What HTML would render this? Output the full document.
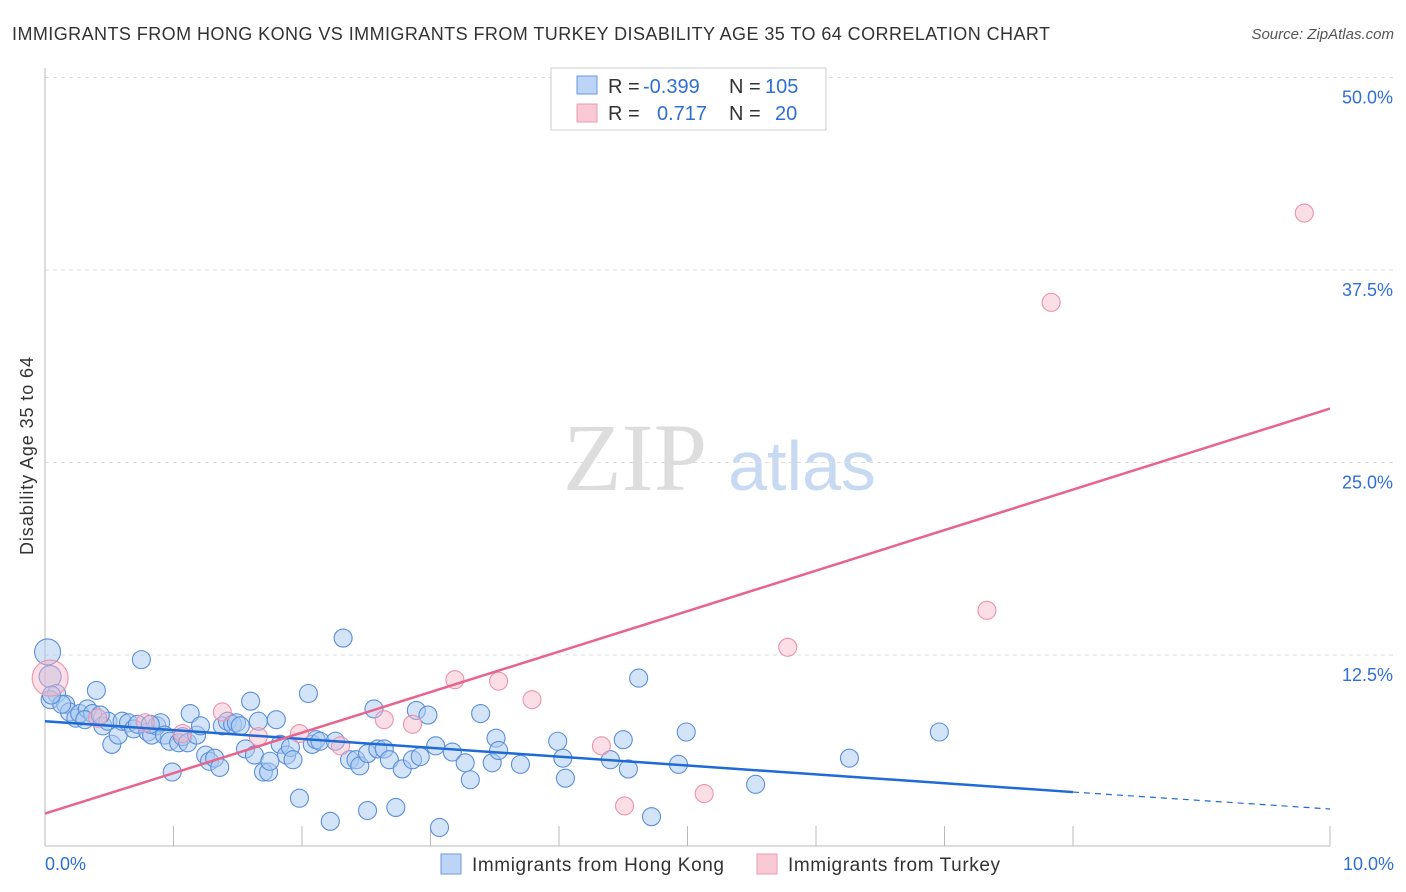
<!DOCTYPE html>
<html><head><meta charset="utf-8"><style>
body{margin:0;background:#fff;font-family:"Liberation Sans",sans-serif;}
svg{display:block}
</style></head><body>
<svg id="chart" width="1406" height="892" xmlns="http://www.w3.org/2000/svg">
<text x="12" y="40" font-size="18" fill="#333" textLength="1038" lengthAdjust="spacing">IMMIGRANTS FROM HONG KONG VS IMMIGRANTS FROM TURKEY DISABILITY AGE 35 TO 64 CORRELATION CHART</text>
<text x="1394" y="39" font-size="15" fill="#555" text-anchor="end" font-style="italic">Source: ZipAtlas.com</text>
<g>
<text x="635" y="490" font-size="96" fill="#ddd" font-family="Liberation Serif,serif" text-anchor="middle">ZIP</text>
<text x="802" y="490" font-size="70" fill="#c8daf2" text-anchor="middle">atlas</text>
</g>
<g id="grid"></g>
<g id="axes"></g>
<g id="points"></g>
<g id="trends"></g>
<text transform="translate(33,456) rotate(-90)" font-size="18" fill="#333" text-anchor="middle" textLength="198" lengthAdjust="spacing">Disability Age 35 to 64</text>
<g>
<rect x="551" y="68" width="275" height="62" fill="#fff" stroke="#ccc"/>
<rect x="577" y="76" width="20" height="18" fill="#bcd4f5" stroke="#6a9ae0"/>
<rect x="577" y="104" width="20" height="18" fill="#f9c9d6" stroke="#ec9ab2"/>
<text font-size="20" fill="#333"><tspan x="608" y="93">R =</tspan><tspan x="643" y="93" fill="#2f6fd6">-0.399</tspan><tspan x="729" y="93">N =</tspan><tspan x="765" y="93" fill="#2f6fd6">105</tspan></text>
<text font-size="20" fill="#333"><tspan x="608" y="120">R =</tspan><tspan x="657" y="120" fill="#2f6fd6">0.717</tspan><tspan x="729" y="120">N =</tspan><tspan x="775" y="120" fill="#2f6fd6">20</tspan></text>
</g>
<g>
<rect x="441" y="854" width="20" height="20" fill="#bcd4f5" stroke="#6a9ae0"/>
<text x="472" y="871" font-size="19" fill="#333" textLength="252" lengthAdjust="spacing">Immigrants from Hong Kong</text>
<rect x="757" y="854" width="20" height="20" fill="#f9c9d6" stroke="#ec9ab2"/>
<text x="788" y="871" font-size="19" fill="#333" textLength="212" lengthAdjust="spacing">Immigrants from Turkey</text>
</g>
</svg>
<script>
const yTicks=[12.5,25,37.5,50];
const yTickLabels=["12.5%","25.0%","37.5%","50.0%"];
const xTickVals=[0,1,2,3,4,5,6,7,8,10];
const blueX=[0.02,0.04,0.09,0.16,0.19,0.24,0.27,0.33,0.37,0.40,0.45,0.49,0.52,0.57,0.60,0.65,0.69,0.72,0.75,0.80,0.83,0.87,0.90,0.93,0.97,0.99,1.04,1.07,1.11,1.13,1.18,1.21,1.25,1.28,1.32,1.36,1.38,1.42,1.46,1.49,1.52,1.56,1.60,1.63,1.66,1.70,1.74,1.75,1.80,1.83,1.88,1.91,1.93,1.98,2.05,2.08,2.11,2.14,2.22,2.26,2.32,2.37,2.42,2.45,2.51,2.51,2.56,2.59,2.64,2.68,2.73,2.78,2.86,2.89,2.92,2.98,3.04,3.07,3.17,3.27,3.31,3.39,3.48,3.51,3.53,3.70,3.99,4.03,4.05,4.40,4.50,4.54,4.62,4.72,4.93,4.99,5.53,6.26,6.96,0.04,0.13,0.31,0.43,0.82,0.05];
const blueY=[12.7,11.1,10.0,9.3,8.8,8.4,8.7,9.0,8.7,10.2,7.9,8.2,6.7,7.3,8.2,8.1,7.7,8.0,12.2,7.5,7.3,7.9,8.1,7.3,6.9,4.9,6.8,7.2,6.8,8.7,7.3,7.9,6.0,5.6,5.8,5.2,7.9,8.2,8.0,8.1,7.9,6.4,9.5,6.0,8.2,4.9,4.9,5.6,8.3,6.7,6.0,6.5,5.7,3.2,10.0,6.7,7.0,6.9,1.7,6.9,13.6,5.7,5.7,5.3,2.4,6.1,9.0,6.4,6.4,5.7,2.6,5.1,5.7,8.9,5.9,8.6,6.6,1.3,6.2,5.5,4.4,8.7,5.5,7.1,6.3,5.4,6.9,5.8,4.5,5.7,7.0,5.1,11.0,2.0,5.4,7.5,4.1,5.8,7.5,9.6,9.3,8.3,8.6,8.0,9.9];
const pinkX=[0.04,0.41,0.78,1.07,1.38,1.66,1.98,2.30,2.64,2.86,3.19,3.53,3.79,4.33,4.51,5.13,5.78,7.33,7.83,9.80];
const pinkY=[11.0,8.4,8.1,7.4,8.8,7.2,7.4,6.6,8.3,8.0,10.9,10.8,9.6,6.6,2.7,3.5,13.0,15.4,35.4,41.2];
const blueTrend=[[0,8.2],[8,3.6]];
const blueTrendDash=[[8,3.6],[10,2.5]];
const pinkTrend=[[0,2.2],[10,28.5]];
const NS="http://www.w3.org/2000/svg";
const X0=45,X1=1330,YB=847.5,PX12=192.5;
function sx(v){return X0+(X1-X0)*v/10;}
function sy(v){return YB-PX12*v/12.5;}
function mk(tag,attrs,parent){const e=document.createElementNS(NS,tag);for(const k in attrs)e.setAttribute(k,attrs[k]);parent.appendChild(e);return e;}
const grid=document.getElementById('grid'),axes=document.getElementById('axes'),pts=document.getElementById('points'),tr=document.getElementById('trends');
yTicks.forEach((t,i)=>{
 const l=mk('line',{x1:45,x2:1394,y1:sy(t),y2:sy(t),stroke:'#ddd','stroke-dasharray':'4,4'},grid);
 
 
 const tx=mk('text',{x:1393,y:sy(t)+26,'font-size':18,fill:'#2f6fd6','text-anchor':'end'},axes);
 tx.textContent=yTickLabels[i];
 
 
});
const ya=mk('line',{x1:45,x2:45,y1:68,y2:846,stroke:'#bbb'},axes);


const xa=mk('line',{x1:45,x2:1330,y1:846,y2:846,stroke:'#bbb'},axes);


xTickVals.forEach(v=>{
 const t=mk('line',{x1:sx(v),x2:sx(v),y1:826,y2:846,stroke:'#bbb'},axes);
 
 
});
const xl0=mk('text',{x:45,y:870,'font-size':18,fill:'#2f6fd6'},axes);xl0.textContent='0.0%';


const xl1=mk('text',{x:1394,y:870,'font-size':18,fill:'#2f6fd6','text-anchor':'end'},axes);xl1.textContent='10.0%';


blueX.forEach((x,i)=>{
 const c=mk('circle',{cx:sx(x),cy:sy(blueY[i]),r:i==0?13:(i==1?11:9),fill:'rgba(170,202,242,0.5)',stroke:'#5b8fd9','stroke-width':1.1},pts);
 
 
});
pinkX.forEach((x,i)=>{
 const c=mk('circle',{cx:sx(x),cy:sy(pinkY[i]),r:i==0?18:9,fill:'rgba(246,182,200,0.45)',stroke:'#eb93ae','stroke-width':1.1},pts);
 
 
});
function ln(seg,col,dash,name){
 const l=mk('line',{x1:sx(seg[0][0]),y1:sy(seg[0][1]),x2:sx(seg[1][0]),y2:sy(seg[1][1]),stroke:col,'stroke-width':dash?1.2:2.5},tr);
 if(dash)l.setAttribute('stroke-dasharray','6,5');
 
 
}
ln(blueTrend,'#1f6bd6',false,'trend-hongkong');
ln(blueTrendDash,'#1f6bd6',true,'trend-hongkong-extension');
ln(pinkTrend,'#e8648f',false,'trend-turkey');
</script>
</body></html>
